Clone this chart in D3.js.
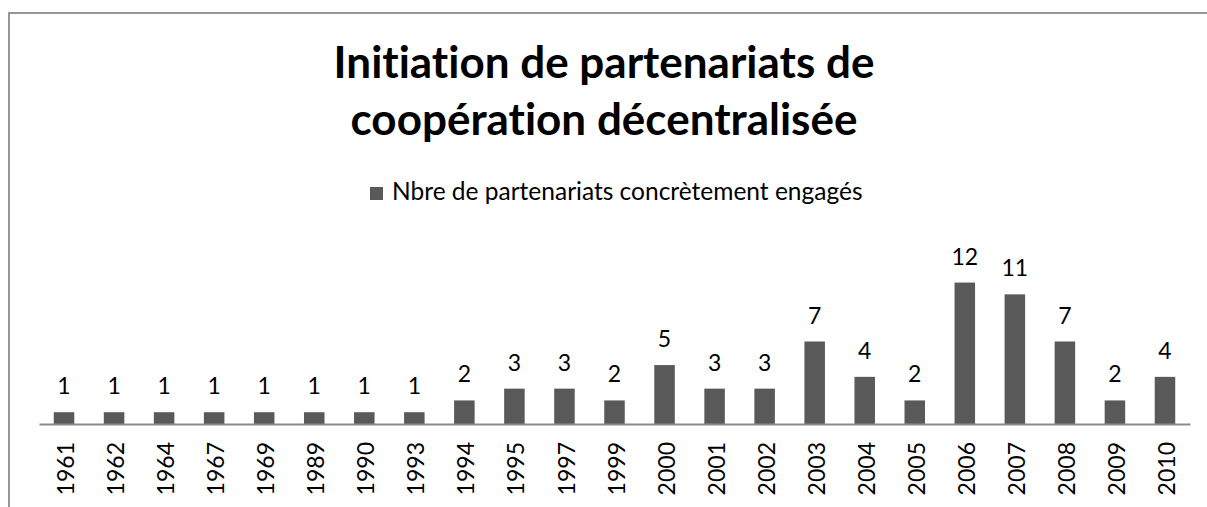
<!DOCTYPE html>
<html>
<head>
<meta charset="utf-8">
<script src="https://cdn.jsdelivr.net/npm/d3@7"></script>
<style>
  body { margin: 0; background: #fff; }
  svg { display: block; font-family: Lato, Calibri, "Open Sans", sans-serif; font-variant-ligatures: none; }
</style>
</head>
<body>
<svg width="1207" height="507"></svg>
<script>
const years = ["1961", "1962", "1964", "1967", "1969", "1989", "1990", "1993", "1994", "1995", "1997", "1999",
  "2000", "2001", "2002", "2003", "2004", "2005", "2006", "2007", "2008", "2009", "2010"];
const partnerships = [1, 1, 1, 1, 1, 1, 1, 1, 2, 3, 3, 2, 5, 3, 3, 7, 4, 2, 12, 11, 7, 2, 4];
const seriesName = "Nbre de partenariats concrètement engagés";
const titleLines = ["Initiation de partenariats de", "coopération décentralisée"];

const svg = d3.select("svg");
const width = +svg.attr("width");
const height = +svg.attr("height");

const data = years.map((y, i) => ({ year: y, value: partnerships[i] }));

// chart frame
svg.append("rect")
  .attr("x", 9)
  .attr("y", 13)
  .attr("width", width)
  .attr("height", height)
  .attr("fill", "none")
  .attr("stroke", "#8c8c8c")
  .attr("stroke-width", 1.8);

const margin = { left: 39, right: 17 };
const baseY = 424;

const xScale = d3.scaleBand()
  .domain(years)
  .range([margin.left, width - margin.right])
  .paddingInner(0.59)
  .paddingOuter(0.295);

const yScale = d3.scaleLinear()
  .domain([0, 14])
  .range([baseY, baseY - 165]);

// title
svg.append("g")
  .selectAll("text")
  .data(titleLines)
  .join("text")
  .attr("x", 604)
  .attr("y", (d, i) => 78 + i * 57)
  .attr("text-anchor", "middle")
  .attr("font-size", 44)
  .attr("font-weight", "bold")
  .attr("fill", "#000")
  .text(d => d);

// legend
const legend = svg.append("g").attr("transform", "translate(370,187)");
legend.append("rect")
  .attr("width", 13)
  .attr("height", 13)
  .attr("fill", "#595959");
legend.append("text")
  .attr("x", 22)
  .attr("y", 13)
  .attr("font-size", 24.5)
  .attr("fill", "#000")
  .text(seriesName);

// bars
svg.append("g")
  .selectAll("rect")
  .data(data)
  .join("rect")
  .attr("x", d => xScale(d.year))
  .attr("y", d => yScale(d.value))
  .attr("width", xScale.bandwidth())
  .attr("height", d => baseY - yScale(d.value))
  .attr("fill", "#595959");

// value labels
svg.append("g")
  .selectAll("text")
  .data(data)
  .join("text")
  .attr("x", d => xScale(d.year) + xScale.bandwidth() / 2)
  .attr("y", d => yScale(d.value) - 18)
  .attr("text-anchor", "middle")
  .attr("font-size", 23)
  .attr("fill", "#000")
  .text(d => d.value);

// x axis
const xAxis = d3.axisBottom(xScale).tickSize(0).tickPadding(0);
const xAxisG = svg.append("g")
  .attr("transform", `translate(0,${baseY})`)
  .call(xAxis);

xAxisG.select(".domain")
  .attr("stroke", "#8c8c8c")
  .attr("stroke-width", 1.8);

xAxisG.selectAll(".tick text")
  .attr("font-family", "Lato, Calibri, sans-serif")
  .attr("font-size", 23)
  .attr("fill", "#000")
  .attr("text-anchor", "end")
  .attr("dy", "0.35em")
  .attr("transform", "translate(2,18) rotate(-90)");
</script>
</body>
</html>
